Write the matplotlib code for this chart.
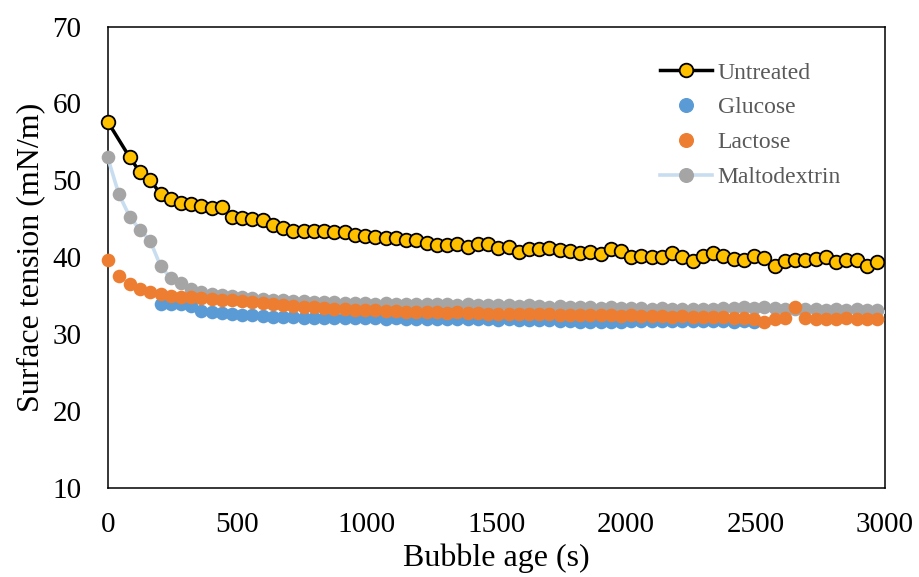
import matplotlib.pyplot as plt
from matplotlib.lines import Line2D

plt.rcParams['font.family'] = ['Liberation Serif', 'DejaVu Serif']

# Bubble age (s) : t=0, t=43, puis un point toutes les ~39.5 s, dernier point hors cadre
bubble_age = [0, 43,
              85, 125, 164, 204, 243, 283, 322, 362, 401, 441,
              480, 520, 559, 599, 638, 678, 717, 757, 796, 836,
              875, 915, 954, 994, 1033, 1073, 1112, 1152, 1191, 1231,
              1270, 1310, 1349, 1389, 1428, 1468, 1507, 1547, 1586, 1626,
              1665, 1705, 1744, 1784, 1823, 1863, 1902, 1942, 1981, 2021,
              2060, 2100, 2139, 2179, 2218, 2258, 2297, 2337, 2376, 2416,
              2455, 2495, 2534, 2574, 2613, 2653, 2692, 2732, 2771, 2811,
              2850, 2890, 2929, 2969,
              3008]

untreated = [57.65, None,
             53.0, 51.07, 50.07, 48.24, 47.6, 47.04, 46.9, 46.68, 46.38, 46.5,
             45.2, 45.17, 44.95, 44.86, 44.21, 43.78, 43.47, 43.47, 43.43, 43.43,
             43.34, 43.34, 42.91, 42.82, 42.6, 42.56, 42.48, 42.26, 42.26, 41.83,
             41.61, 41.61, 41.7, 41.39, 41.7, 41.7, 41.26, 41.39, 40.74, 41.05,
             41.05, 41.18, 40.96, 40.87, 40.53, 40.66, 40.44, 41.05, 40.87, 40.09,
             40.18, 40.09, 40.0, 40.53, 40.0, 39.53, 40.18, 40.61, 40.18, 39.75,
             39.66, 40.18, 39.88, 38.88, 39.53, 39.66, 39.66, 39.79, 40.09, 39.44,
             39.66, 39.66, 38.92, 39.44,
             39.5]

glucose = [None, None,
           None, None, None, 33.95, 33.9, 33.9, 33.7, 33.05, 32.9, 32.8,
           32.65, 32.55, 32.45, 32.35, 32.3, 32.25, 32.2, 32.15, 32.15, 32.1,
           32.15, 32.1, 32.1, 32.15, 32.1, 32.05, 32.1, 32.05, 32.0, 32.05,
           32.0, 32.0, 31.95, 32.0, 31.95, 31.95, 31.9, 31.95, 31.9, 31.85,
           31.85, 31.8, 31.75, 31.7, 31.65, 31.6, 31.65, 31.6, 31.65, 31.7,
           31.75, 31.7, 31.75, 31.7, 31.7, 31.75, 31.7, 31.75, 31.7, 31.65,
           31.7, 31.65, None, None, None, None, None, None, None, None,
           None, None, None, None,
           None]

lactose = [39.7, 37.58,
           36.5, 35.9, 35.5, 35.3, 34.95, 34.85, 34.8, 34.7, 34.6, 34.5,
           34.4, 34.3, 34.2, 34.05, 33.9, 33.8, 33.65, 33.55, 33.5, 33.4,
           33.35, 33.3, 33.2, 33.15, 33.1, 33.0, 33.05, 32.95, 32.9, 32.9,
           32.85, 32.8, 32.85, 32.75, 32.8, 32.7, 32.7, 32.65, 32.7, 32.6,
           32.6, 32.65, 32.55, 32.5, 32.55, 32.5, 32.45, 32.5, 32.4, 32.45,
           32.4, 32.35, 32.4, 32.3, 32.35, 32.25, 32.3, 32.2, 32.25, 32.15,
           32.1, 32.0, 31.55, 32.0, 32.15, 33.55, 32.1, 32.0, 32.05, 32.0,
           32.1, 32.0, 32.05, 32.0,
           None]

maltodextrin = [53.0, 48.24,
                45.3, 43.55, 42.15, 38.9, 37.3, 36.6, 35.9, 35.5, 35.25, 35.1,
                34.95, 34.85, 34.75, 34.6, 34.5, 34.4, 34.35, 34.3, 34.25, 34.2,
                34.15, 34.1, 34.1, 34.05, 34.0, 34.05, 34.0, 33.95, 34.0, 33.9,
                33.95, 33.9, 33.85, 33.9, 33.8, 33.85, 33.8, 33.75, 33.7, 33.75,
                33.65, 33.6, 33.65, 33.55, 33.5, 33.55, 33.45, 33.5, 33.4, 33.45,
                33.4, 33.35, 33.4, 33.3, 33.35, 33.3, 33.25, 33.3, 33.4, 33.45,
                33.5, 33.45, 33.5, 33.45, 33.35, 33.3, 33.25, 33.3, 33.2, 33.25,
                33.2, 33.25, 33.2, 33.15,
                32.8]

x_ticks = [0, 500, 1000, 1500, 2000, 2500, 3000]
y_ticks = [10, 20, 30, 40, 50, 60, 70]

GOLD = '#FFC000'
BLUE = '#5B9BD5'
ORANGE = '#ED7D31'
GRAY = '#A5A5A5'
LIGHTBLUE = '#C9DDF0'
MS = 9.8


def pts(values, xmax=None):
    # on garde seulement les points existants (et dans le cadre si xmax)
    t, y = [], []
    for a, v in zip(bubble_age, values):
        if v is None:
            continue
        if xmax is not None and a > xmax:
            continue
        t.append(a)
        y.append(v)
    return t, y


fig = plt.figure(figsize=(9.2, 5.77), dpi=100)
ax = fig.add_axes([0.117, 0.154, 0.845, 0.8])

# Maltodextrin : ligne bleu clair + marqueurs gris
t, y = pts(maltodextrin)
ax.plot(t, y, color=LIGHTBLUE, lw=2.6, zorder=3)
t, y = pts(maltodextrin, 3000)
ax.plot(t, y, ls='none', marker='o', ms=MS, color=GRAY, mec='none',
        zorder=3.1, clip_on=False)

t, y = pts(glucose, 3000)
ax.plot(t, y, ls='none', marker='o', ms=MS, color=BLUE, mec='none',
        zorder=3.2, clip_on=False)

t, y = pts(lactose, 3000)
ax.plot(t, y, ls='none', marker='o', ms=MS, color=ORANGE, mec='none',
        zorder=3.3, clip_on=False)

# Untreated : ligne noire + marqueurs or bord noir
t, y = pts(untreated)
ax.plot(t, y, color='black', lw=2.5, zorder=4)
t, y = pts(untreated, 3000)
ax.plot(t, y, ls='none', marker='o', ms=MS, color=GOLD, mec='black',
        mew=1.3, zorder=4.1, clip_on=False)

ax.set_xlim(0, 3000)
ax.set_ylim(10, 70)
ax.set_xticks(x_ticks)
ax.set_yticks(y_ticks)
ax.tick_params(axis='both', length=0, labelsize=21)
ax.tick_params(axis='y', pad=19)
ax.tick_params(axis='x', pad=17)
for sp in ax.spines.values():
    sp.set_color('black')
    sp.set_linewidth(1.1)

ax.set_xlabel("Bubble age (s)", fontsize=23, labelpad=4)
ax.set_ylabel("Surface tension (mN/m)", fontsize=23, labelpad=5)

handles = [
    Line2D([], [], color='black', lw=2.5, marker='o', ms=MS, mfc=GOLD, mec='black', mew=1.3),
    Line2D([], [], ls='none', marker='o', ms=MS, color=BLUE),
    Line2D([], [], ls='none', marker='o', ms=MS, color=ORANGE),
    Line2D([], [], color=LIGHTBLUE, lw=2.6, marker='o', ms=MS, mfc=GRAY, mec=GRAY),
]
labels = ["Untreated", "Glucose", "Lactose", "Maltodextrin"]
leg = ax.legend(handles, labels, loc='upper left', frameon=False, fontsize=17,
                bbox_to_anchor=(660 / 920, 1 - 62 / 577), bbox_transform=fig.transFigure,
                borderpad=0, borderaxespad=0, handlelength=2.2, handletextpad=0.25,
                labelspacing=0.56)
for txt in leg.get_texts():
    txt.set_color('#595959')

fig.savefig("out.png", dpi=100)
